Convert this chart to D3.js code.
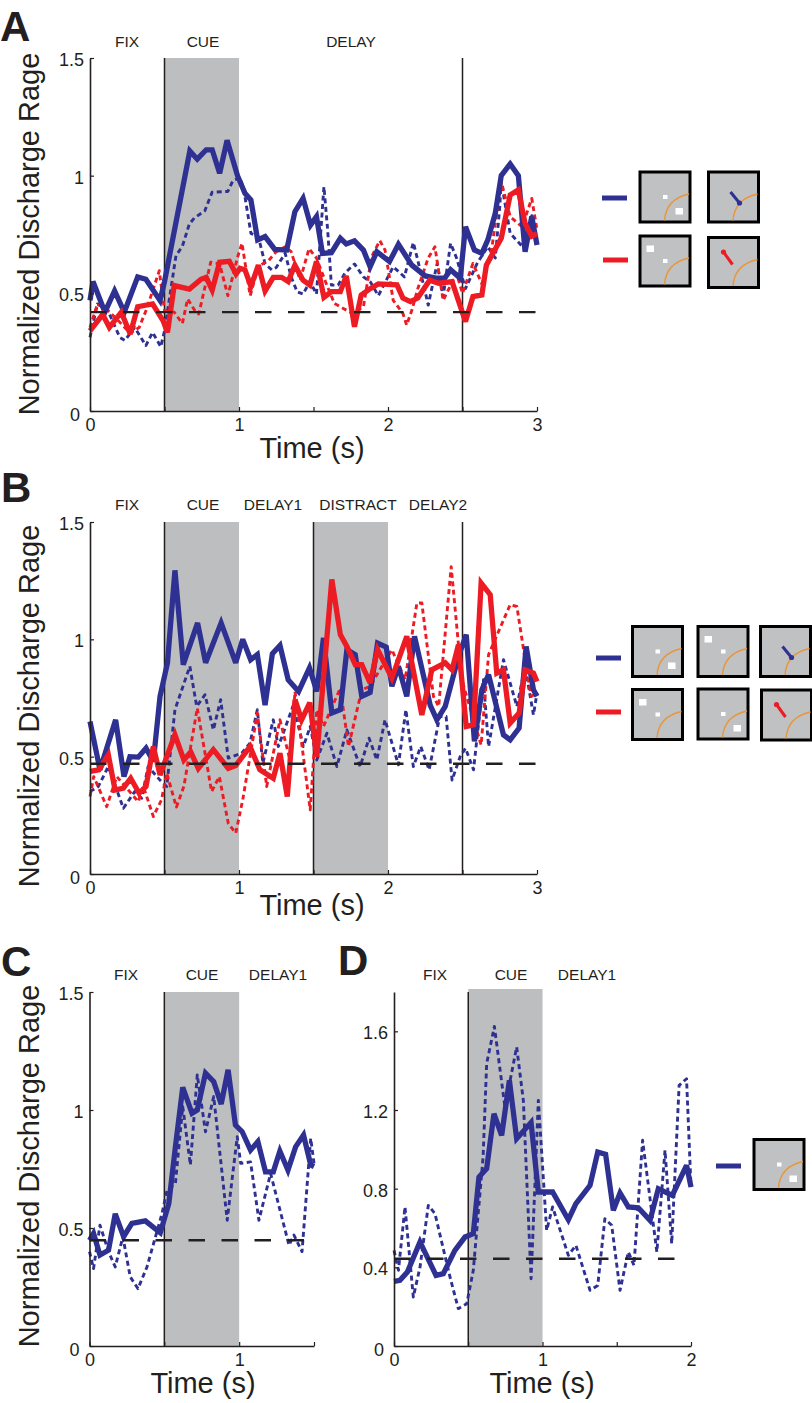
<!DOCTYPE html>
<html><head><meta charset="utf-8">
<script src="https://d3js.org/d3.v7.min.js"></script>
<style>
html,body{margin:0;padding:0;background:#fff}
svg{display:block}
text{font-family:"Liberation Sans",Arial,sans-serif;fill:#231f20}
</style></head><body>
<svg id="fig" width="812" height="1403"></svg>
<script>
// ---------- data: [time (s), normalized rate] ----------
const aBlueSolid=[[0,.47],[.02,.55],[.1,.42],[.165,.51],[.23,.42],[.32,.57],[.375,.56],[.47,.47],[.5,.55],[.67,1.105],[.72,1.07],[.78,1.11],[.82,1.11],[.87,1.01],[.92,1.15],[.99,1.0],[1.04,.925],[1.08,.897],[1.125,.727],[1.175,.741],[1.24,.687],[1.32,.684],[1.375,.847],[1.43,.904],[1.48,.79],[1.52,.826],[1.56,.67],[1.62,.673],[1.68,.734],[1.72,.71],[1.775,.723],[1.835,.684],[1.88,.613],[1.925,.677],[2.01,.635],[2.07,.708],[2.16,.62],[2.25,.574],[2.33,.564],[2.38,.564],[2.42,.6],[2.485,.564],[2.52,.783],[2.58,.684],[2.63,.67],[2.67,.727],[2.72,.84],[2.76,1.0],[2.82,1.05],[2.875,1.0],[2.92,.677],[2.965,.826],[3,.705]];
const aRedSolid=[[0,.34],[.085,.41],[.13,.355],[.21,.42],[.27,.327],[.32,.443],[.42,.455],[.49,.384],[.52,.334],[.565,.533],[.667,.518],[.745,.56],[.78,.568],[.82,.514],[.87,.632],[.935,.636],[.98,.582],[1.007,.606],[1.04,.6],[1.08,.53],[1.13,.62],[1.175,.51],[1.23,.568],[1.286,.568],[1.33,.55],[1.375,.62],[1.43,.556],[1.476,.535],[1.52,.635],[1.57,.483],[1.62,.507],[1.68,.507],[1.72,.574],[1.775,.358],[1.82,.493],[1.88,.52],[1.935,.54],[2.06,.536],[2.1,.48],[2.15,.465],[2.2,.48],[2.25,.528],[2.28,.556],[2.34,.543],[2.43,.55],[2.52,.38],[2.57,.486],[2.63,.493],[2.66,.62],[2.76,.734],[2.82,.918],[2.875,.94],[2.92,.797],[2.965,.743],[3,.754]];
const aBlueDash=[[0,.313],[.05,.455],[.12,.427],[.2,.313],[.235,.3],[.3,.355],[.375,.278],[.42,.334],[.475,.273],[.5,.34],[.577,.66],[.62,.7],[.667,.795],[.7,.82],[.77,.85],[.82,.93],[.925,.933],[.96,.98],[1.01,.99],[1.04,.91],[1.08,.755],[1.13,.74],[1.175,.625],[1.22,.6],[1.25,.61],[1.31,.67],[1.35,.57],[1.39,.507],[1.43,.497],[1.476,.55],[1.52,.497],[1.57,.953],[1.595,.77],[1.62,.535],[1.665,.535],[1.71,.585],[1.775,.625],[1.835,.57],[1.88,.55],[1.935,.49],[2.035,.613],[2.11,.57],[2.17,.716],[2.2,.64],[2.27,.45],[2.33,.627],[2.37,.486],[2.42,.713],[2.46,.65],[2.52,.52],[2.6,.63],[2.67,.698],[2.72,.65],[2.75,.868],[2.76,.975],[2.82,.755],[2.9,.7],[2.965,.83],[3,.71]];
const aRedDash=[[0,.355],[.05,.455],[.12,.427],[.19,.384],[.27,.33],[.33,.355],[.38,.433],[.465,.596],[.5,.427],[.565,.42],[.62,.372],[.655,.476],[.71,.42],[.73,.412],[.81,.632],[.87,.625],[.925,.49],[.99,.653],[1.02,.713],[1.075,.49],[1.13,.615],[1.2,.64],[1.25,.677],[1.31,.698],[1.35,.677],[1.41,.556],[1.47,.69],[1.52,.65],[1.58,.55],[1.64,.457],[1.7,.436],[1.76,.415],[1.835,.443],[1.89,.655],[1.945,.724],[1.98,.684],[2.035,.47],[2.1,.415],[2.125,.365],[2.16,.428],[2.2,.52],[2.27,.65],[2.315,.698],[2.37,.47],[2.46,.585],[2.5,.5],[2.57,.627],[2.63,.54],[2.695,.684],[2.76,.975],[2.82,.826],[2.9,.783],[2.965,.903],[3,.77]];

const bBlueSolid=[[0,.65],[.067,.444],[.172,.657],[.228,.415],[.268,.5],[.324,.498],[.376,.536],[.425,.479],[.47,.757],[.52,.9],[.57,1.294],[.626,.892],[.722,1.07],[.776,.9],[.88,1.07],[.978,.9],[1.025,1.0],[1.078,.913],[1.123,.935],[1.175,.72],[1.224,.939],[1.275,.974],[1.33,.828],[1.4,.778],[1.473,.878],[1.522,.778],[1.567,1.006],[1.623,.686],[1.68,.7],[1.724,.956],[1.78,.935],[1.824,.757],[1.88,.774],[1.93,.984],[1.988,.967],[2.026,.8],[2.07,.885],[2.126,.757],[2.178,1.013],[2.283,.72],[2.328,.657],[2.384,.714],[2.473,.927],[2.525,1.02],[2.58,.565],[2.63,.785],[2.675,.85],[2.775,.593],[2.82,.572],[2.88,.622],[2.927,.97],[2.976,.785],[3,.757]];
const bRedSolid=[[0,.437],[.06,.444],[.123,.508],[.168,.358],[.224,.366],[.273,.408],[.33,.344],[.376,.373],[.425,.543],[.47,.422],[.57,.593],[.63,.486],[.676,.52],[.727,.45],[.828,.53],[.928,.45],[.978,.462],[1.074,.543],[1.14,.444],[1.23,.408],[1.275,.515],[1.324,.33],[1.376,.743],[1.42,.657],[1.475,.73],[1.522,.5],[1.623,1.255],[1.68,1.02],[1.724,.97],[1.78,.892],[1.824,.892],[1.88,.814],[1.93,.956],[2.026,.835],[2.126,1.013],[2.227,.678],[2.294,.87],[2.384,.9],[2.43,.87],[2.473,.977],[2.525,.629],[2.574,.636],[2.625,1.24],[2.686,1.19],[2.73,.856],[2.775,.87],[2.82,.643],[2.88,.686],[2.92,.87],[2.976,.856],[3,.82]];
const bBlueDash=[[0,.351],[.056,.373],[.123,.458],[.224,.28],[.3,.351],[.347,.323],[.39,.458],[.47,.4],[.515,.373],[.57,.7],[.67,.885],[.716,.714],[.772,.764],[.828,.614],[.877,.743],[.928,.494],[1.018,.515],[1.074,.558],[1.123,.7],[1.16,.472],[1.23,.657],[1.264,.543],[1.365,.72],[1.432,.543],[1.478,.629],[1.522,.486],[1.59,.6],[1.657,.458],[1.724,.614],[1.813,.458],[1.873,.579],[1.925,.486],[1.98,.657],[2.07,.465],[2.12,.7],[2.17,.458],[2.22,.543],[2.276,.444],[2.347,.671],[2.39,.671],[2.43,.4],[2.484,.5],[2.52,.536],[2.574,.444],[2.64,.828],[2.675,.543],[2.775,.913],[2.865,.714],[2.92,.885],[2.976,.678],[3,.771]];
const bRedDash=[[0,.33],[.025,.415],[.112,.287],[.18,.415],[.324,.308],[.358,.373],[.425,.245],[.48,.316],[.515,.43],[.58,.285],[.63,.373],[.72,.707],[.816,.351],[.868,.415],[.928,.216],[.978,.174],[1.025,.316],[1.123,.686],[1.186,.373],[1.275,.657],[1.342,.486],[1.376,.778],[1.478,.273],[1.522,.7],[1.567,.629],[1.68,.792],[1.735,.543],[1.824,.785],[1.88,.8],[2.026,.956],[2.115,.828],[2.194,1.155],[2.227,1.155],[2.305,.757],[2.34,.714],[2.424,1.31],[2.495,.828],[2.625,.55],[2.675,.935],[2.82,1.148],[2.865,1.14],[2.91,.956],[2.96,.757],[3,.771]];

const cBlueSolid=[[0,.448],[.027,.477],[.07,.385],[.127,.406],[.172,.56],[.228,.463],[.283,.52],[.373,.53],[.473,.48],[.53,.604],[.574,.844],[.623,1.096],[.685,.986],[.72,1.0],[.775,1.156],[.83,1.12],[.88,1.025],[.926,1.17],[.975,.936],[1.02,.908],[1.076,.83],[1.125,.866],[1.176,.738],[1.228,.738],[1.272,.826],[1.326,.745],[1.377,.844],[1.43,.894],[1.478,.767],[1.5,.76]];
const cBlueDash=[[0,.4],[.027,.328],[.07,.512],[.127,.4],[.172,.335],[.223,.463],[.272,.293],[.324,.243],[.384,.335],[.484,.56],[.518,.66],[.574,.689],[.623,1.014],[.674,.767],[.72,1.149],[.775,.908],[.83,1.057],[.92,.533],[.987,.887],[1.01,.774],[1.076,.78],[1.132,.533],[1.21,.731],[1.333,.427],[1.366,.47],[1.42,.4],[1.478,.88],[1.5,.774]];

const dBlueSolid=[[0,.329],[.04,.334],[.09,.376],[.175,.529],[.283,.359],[.332,.368],[.41,.486],[.478,.554],[.534,.571],[.572,.859],[.624,.902],[.673,1.181],[.725,1.071],[.777,1.351],[.826,1.054],[.923,1.136],[.972,.783],[1.068,.783],[1.174,.642],[1.225,.724],[1.32,.817],[1.372,.986],[1.425,.975],[1.477,.69],[1.522,.778],[1.578,.707],[1.645,.703],[1.724,.639],[1.78,.8],[1.874,.766],[1.97,.919],[2,.808]];
const dBlueDash=[[0,.486],[.03,.385],[.074,.707],[.13,.249],[.175,.4],[.231,.715],[.276,.673],[.377,.351],[.433,.19],[.49,.215],[.534,.385],[.6,.961],[.624,1.436],[.676,1.625],[.747,1.215],[.826,1.52],[.871,1.249],[.923,.342],[.972,1.249],[1.028,.588],[1.068,.707],[1.174,.461],[1.225,.512],[1.32,.283],[1.372,.308],[1.42,.647],[1.466,.614],[1.522,.283],[1.578,.478],[1.616,.41],[1.674,1.046],[1.77,.478],[1.825,.995],[1.87,.52],[1.92,1.325],[1.97,1.359],[2,.808]];

const yTicksABC=[0,.5,1,1.5];
const yTicksD=[0,.4,.8,1.2,1.6];
const xTicks3=[0,.5,1,1.5,2,2.5,3];
const xTicks15=[0,.5,1,1.5];
const xTicks2=[0,.5,1,1.5,2];
const phasesA=["FIX","CUE","DELAY"];
const phasesB=["FIX","CUE","DELAY1","DISTRACT","DELAY2"];
const phasesC=["FIX","CUE","DELAY1"];
const yLabel="Normalized Discharge Rage", xLabel="Time (s)";

// ---------- styling ----------
const BLUE="#2e3192",RED="#ed1c24",GRAY="#bcbec0",INK="#231f20",ORANGE="#e8963a";
const svg=d3.select("#fig");

function panel(o){
  const g=svg.append("g");
  const x=d3.scaleLinear().domain([0,o.xMax]).range([o.left,o.right]);
  const y=d3.scaleLinear().domain([0,o.yMax]).range([o.bottom,o.top]);
  const line=d3.line().x(d=>x(d[0])).y(d=>y(d[1]));
  (o.bands||[]).forEach(b=>g.append("rect").attr("x",x(b[0])).attr("width",x(b[1])-x(b[0]))
    .attr("y",(o.bandTop||o.top)).attr("height",o.bottom-(o.bandTop||o.top)).attr("fill",GRAY));
  (o.vlines||[]).forEach(v=>g.append("line").attr("x1",x(v)).attr("x2",x(v)).attr("y1",o.top).attr("y2",o.bottom)
    .attr("stroke",INK).attr("stroke-width",1.5));
  (o.dashed||[]).forEach(s=>g.append("path").datum(s.d).attr("d",line).attr("fill","none").attr("stroke",s.c)
    .attr("stroke-width",2.9).attr("stroke-dasharray","5 3.5").attr("stroke-linejoin","round"));
  (o.solid||[]).forEach(s=>g.append("path").datum(s.d).attr("d",line).attr("fill","none").attr("stroke",s.c)
    .attr("stroke-width",5.3).attr("stroke-linejoin","miter").attr("stroke-miterlimit",3));
  g.append("line").attr("x1",o.left).attr("x2",o.right).attr("y1",y(o.base)).attr("y2",y(o.base))
    .attr("stroke",INK).attr("stroke-width",2.4).attr("stroke-dasharray","16.5 16.5");
  const ax=g.append("g").attr("transform",`translate(0,${o.bottom})`)
    .call(d3.axisBottom(x).tickValues(o.xTicks).tickSize(-4).tickSizeOuter(0).tickFormat(d=>Number.isInteger(d)?d:""));
  const ay=g.append("g").attr("transform",`translate(${o.left},0)`)
    .call(d3.axisLeft(y).tickValues(o.yTicks).tickSize(-4).tickSizeOuter(0).tickFormat(d=>String(d)));
  [ax,ay].forEach(a=>{a.select(".domain").attr("stroke",INK).attr("stroke-width",1.6);
    a.selectAll(".tick line").attr("stroke",INK).attr("stroke-width",1.2);
    a.selectAll("text").style("font-size","18px").attr("fill",INK).style("font-family",'"Liberation Sans",Arial,sans-serif');});
  ax.selectAll("text").attr("y",7).attr("dy","0.71em");
  ay.selectAll("text").attr("x",-6).attr("dy","0.42em");
  ay.selectAll(".tick").filter(d=>d===0).select("text").attr("x",-10).attr("dy","0.55em");
  o.phases.forEach((p,i)=>g.append("text").attr("x",o.phaseX[i]).attr("y",o.phaseY).attr("text-anchor","middle")
    .style("font-size","15.5px").text(p));
  if(o.yLabelX!==null) g.append("text").attr("transform",`translate(${o.yLabelX},${o.yLabelY}) rotate(-90)`).attr("text-anchor","middle")
    .style("font-size","29px").text(yLabel);
  g.append("text").attr("x",o.xLabelX).attr("y",o.xLabelY).attr("text-anchor","middle").style("font-size","29px").text(xLabel);
  g.append("text").attr("x",o.letterX).attr("y",o.letterY).style("font-size","42px").style("font-weight","bold").text(o.letter);
}

function icon(px,py,kind){
  const g=svg.append("g").attr("transform",`translate(${px},${py})`);
  g.append("rect").attr("x",0).attr("y",0).attr("width",50).attr("height",50).attr("fill","#c0c1c3").attr("stroke","#000").attr("stroke-width",3);
  g.append("path").attr("d","M24.5 48.5Q26 27 49 22").attr("fill","none").attr("stroke",ORANGE).attr("stroke-width",1.4);
  if(kind==="LR"||kind==="UL"){
    g.append("rect").attr("x",23).attr("y",23).attr("width",4.5).attr("height",4).attr("fill","#fff");
    if(kind==="LR") g.append("rect").attr("x",35.5).attr("y",36).attr("width",7.5).attr("height",6.5).attr("fill","#fff");
    else g.append("rect").attr("x",6.5).attr("y",9.5).attr("width",7.5).attr("height",6.5).attr("fill","#fff");
  } else if(kind==="sacBlue"){
    g.append("line").attr("x1",22).attr("y1",20).attr("x2",31).attr("y2",31).attr("stroke",BLUE).attr("stroke-width",3);
    g.append("circle").attr("cx",31).attr("cy",31).attr("r",2.6).attr("fill",BLUE);
  } else {
    g.append("line").attr("x1",24).attr("y1",27).attr("x2",15).attr("y2",14.5).attr("stroke",RED).attr("stroke-width",3);
    g.append("circle").attr("cx",15).attr("cy",14.5).attr("r",2.6).attr("fill",RED);
  }
}
function key(x1,x2,y,c){svg.append("line").attr("x1",x1).attr("x2",x2).attr("y1",y).attr("y2",y).attr("stroke",c).attr("stroke-width",5);}

panel({letter:"A",letterX:0,letterY:41,left:90,right:537,top:58,bottom:411,xMax:3,yMax:1.5,base:.42,
  bands:[[.5,1]],vlines:[.5,2.5],xTicks:xTicks3,yTicks:yTicksABC,
  dashed:[{d:aBlueDash,c:BLUE},{d:aRedDash,c:RED}],solid:[{d:aBlueSolid,c:BLUE},{d:aRedSolid,c:RED}],
  phases:phasesA,phaseX:[127,203,351],phaseY:47,yLabelX:39,yLabelY:234,xLabelX:312,xLabelY:458});
panel({letter:"B",letterX:1,letterY:502,left:90,right:537,top:522,bottom:874,xMax:3,yMax:1.5,base:.47,
  bands:[[.5,1],[1.5,2]],vlines:[.5,1.5,2.5],xTicks:xTicks3,yTicks:yTicksABC,
  dashed:[{d:bBlueDash,c:BLUE},{d:bRedDash,c:RED}],solid:[{d:bBlueSolid,c:BLUE},{d:bRedSolid,c:RED}],
  phases:phasesB,phaseX:[127,203,273,358,438],phaseY:510,yLabelX:39,yLabelY:706,xLabelX:312,xLabelY:915});
panel({letter:"C",letterX:1,letterY:976,left:89.5,right:314,top:992,bottom:1346,xMax:1.5,yMax:1.5,base:.448,
  bands:[[.5,1]],vlines:[.5],xTicks:xTicks15,yTicks:yTicksABC,
  dashed:[{d:cBlueDash,c:BLUE}],solid:[{d:cBlueSolid,c:BLUE}],
  phases:phasesC,phaseX:[126,202,278],phaseY:980,yLabelX:39,yLabelY:1166,xLabelX:203,xLabelY:1393});
panel({letter:"D",letterX:338,letterY:975,left:394,right:691,top:992,bottom:1346,bandTop:989,xMax:2,yMax:1.8,base:.444,
  bands:[[.5,1]],vlines:[.5],xTicks:xTicks2,yTicks:yTicksD,
  dashed:[{d:dBlueDash,c:BLUE}],solid:[{d:dBlueSolid,c:BLUE}],
  phases:phasesC,phaseX:[435,511,587],phaseY:980,yLabelX:null,yLabelY:null,xLabelX:542,xLabelY:1393});

key(602,627,198,BLUE);key(603,628,260,RED);
icon(640,172,"LR");icon(708.5,172,"sacBlue");icon(640,236,"UL");icon(708.5,237.5,"sacRed");
key(596,621,658,BLUE);key(596,621,712,RED);
icon(632.5,626.5,"LR");icon(698,626.5,"UL");icon(760.5,626.5,"sacBlue");
icon(632.5,689.5,"UL");icon(698,689,"LR");icon(761.5,690,"sacRed");
key(716,741,1166,BLUE);icon(754,1139.5,"LR");
</script>
</body></html>
